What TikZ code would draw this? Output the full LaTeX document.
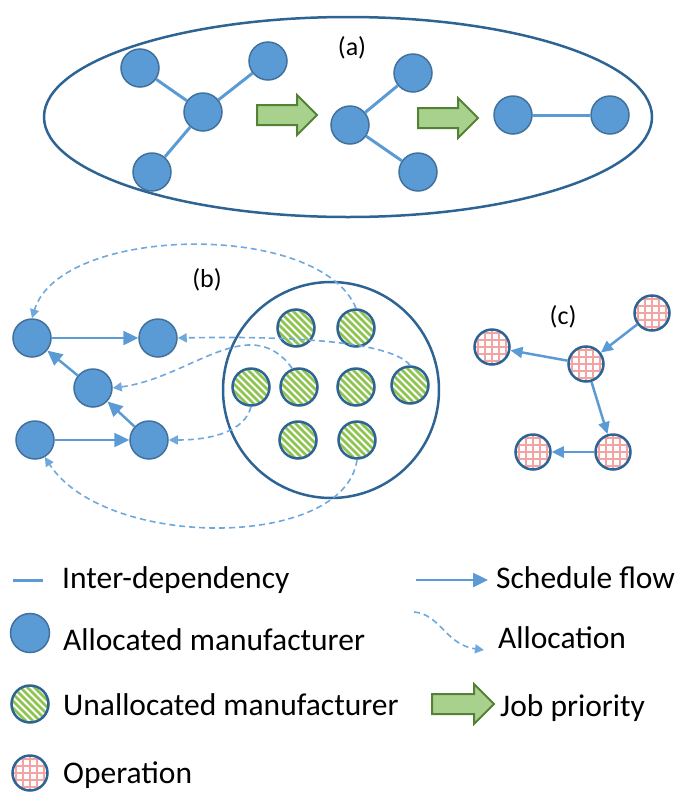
\documentclass[tikz,border=0pt]{standalone}
\usepackage{fontspec}
\setmainfont{Carlito}
\usepackage{xcolor}
\usepackage{tikz}
\usetikzlibrary{positioning, arrows.meta, shapes.geometric, shapes.arrows}

\definecolor{nodeblue}{HTML}{5B9BD5}
\definecolor{edgeblue}{HTML}{41719C}
\definecolor{ringblue}{HTML}{2E6494}
\definecolor{dashblue}{HTML}{6FA8DC}
\definecolor{stripegreen}{HTML}{8DC44E}
\definecolor{gridpink}{HTML}{F4A3A3}
\definecolor{prioface}{HTML}{A9D18E}
\definecolor{prioedge}{HTML}{548235}

\begin{document}
\begin{tikzpicture}[
    x=1pt, y=-1pt,
    alloc/.style={circle, draw=edgeblue, fill=nodeblue, line width=1.5pt, minimum size=38pt, inner sep=0},
    unalloc/.style={circle, draw=ringblue, fill=white, line width=2.5pt, minimum size=37pt, inner sep=0,
        path picture={\foreach \k in {-42,-35,...,42}{
            \draw[stripegreen, line width=2.6pt] ([xshift=\k pt]path picture bounding box.center) ++(-25pt,25pt) -- ++(50pt,-50pt);}}},
    oper/.style={circle, draw=ringblue, fill=white, line width=2.5pt, minimum size=35pt, inner sep=0,
        path picture={\foreach \k in {-14,-7,...,14}{
            \draw[gridpink, line width=1.4pt] ([xshift=\k pt]path picture bounding box.center) ++(0pt,-20pt) -- ++(0pt,40pt);
            \draw[gridpink, line width=1.4pt] ([yshift=\k pt]path picture bounding box.center) ++(-20pt,0pt) -- ++(40pt,0pt);}}},
    group/.style={draw=ringblue, line width=2.5pt, inner sep=0},
    prio/.style={single arrow, draw=prioedge, fill=prioface, line width=2pt, inner xsep=0pt, inner ysep=9pt, minimum height=60pt, single arrow head extend=10pt},
    dep/.style={draw=nodeblue, line width=3pt},
    flow/.style={draw=nodeblue, line width=2.5pt, -{Triangle[length=15pt, width=14pt]}},
    opflow/.style={draw=nodeblue, line width=2.5pt, -{Triangle[length=12pt, width=11pt]}},
    assign/.style={draw=dashblue, line width=1.6pt, dash pattern=on 6pt off 4pt, -{Triangle[length=9pt, width=9pt]}},
    tag/.style={font=\fontsize{26}{30}\selectfont},
    legend/.style={anchor=base west, inner sep=0, font=\fontsize{31.5}{36}\selectfont}
]
\useasboundingbox (0,0) rectangle (675,793);

% (a) job priority
\node[group, ellipse, minimum width=608pt, minimum height=200pt] (jobs) at (348,117) {};
\node[tag] (taga) at (352,48) {(a)};
\node[alloc] (a1) at (140,68) {};
\node[alloc] (a2) at (268,61) {};
\node[alloc] (a3) at (203,112) {};
\node[alloc] (a4) at (152,172) {};
\node[alloc] (m1) at (413,73) {};
\node[alloc] (m2) at (350,125) {};
\node[alloc] (m3) at (418,172) {};
\node[alloc] (r1) at (513,115) {};
\node[alloc] (r2) at (610,115) {};
\node[prio] (prio1) at (282,115) {};
\node[prio] (prio2) at (443,118) {};

\draw[dep] (a1) -- (a3);
\draw[dep] (a2) -- (a3);
\draw[dep] (a4) -- (a3);
\draw[dep] (m1) -- (m2);
\draw[dep] (m3) -- (m2);
\draw[dep] (r1) -- (r2);

% (b) allocation
\node[tag] (tagb) at (207,280) {(b)};
\node[group, circle, minimum size=216pt] (pool) at (331,390) {};
\node[alloc] (b1) at (32,338) {};
\node[alloc] (b2) at (158,338) {};
\node[alloc] (b3) at (93,388) {};
\node[alloc] (b4) at (35,440) {};
\node[alloc] (b5) at (149,440) {};
\node[unalloc] (g1) at (296,328) {};
\node[unalloc] (g2) at (356,328) {};
\node[unalloc] (g3) at (251,387) {};
\node[unalloc] (g4) at (299,387) {};
\node[unalloc] (g5) at (356,387) {};
\node[unalloc] (g6) at (410,385) {};
\node[unalloc] (g7) at (298,440) {};
\node[unalloc] (g8) at (357,440) {};

\draw[flow] (b1) -- (b2);
\draw[flow] (b4) -- (b5);
\draw[flow] (b5) -- (b3);
\draw[flow] (b3) -- (b1);

\draw[assign] (g2.north) .. controls (320,220) and (60,225) .. (b1.north);
\draw[assign] (g6.north) .. controls (390,340) and (280,336) .. (b2.east);
\draw[assign] (g4.110) .. controls (250,310) and (190,378) .. (b3.east);
\draw[assign] (g3.south) .. controls (245,430) and (215,440) .. (b5.east);
\draw[assign] (g8.south) .. controls (345,550) and (105,550) .. (b4.300);

% (c) operations
\node[tag] (tagc) at (563,317) {(c)};
\node[oper] (c1) at (652,313) {};
\node[oper] (c2) at (492,347) {};
\node[oper] (c3) at (586,364) {};
\node[oper] (c4) at (613,452) {};
\node[oper] (c5) at (533,452) {};

\draw[opflow] (c1) -- (c3);
\draw[opflow] (c3) -- (c2);
\draw[opflow] (c3) -- (c4);
\draw[opflow] (c4) -- (c5);

% Legend
\coordinate (depL) at (13,580);
\coordinate (depR) at (43,580);
\draw[dep] (depL) -- (depR);
\node[legend] (l1) at (62,588) {Inter-dependency};

\node[alloc, minimum size=39pt] (k2) at (30,633) {};
\node[legend] (l2) at (63,650) {Allocated manufacturer};

\node[unalloc] (k3) at (30,704) {};
\node[legend] (l3) at (63,715) {Unallocated manufacturer};

\node[oper] (k4) at (30,773) {};
\node[legend] (l4) at (63,783) {Operation};

\coordinate (flowL) at (416,580);
\coordinate (flowR) at (488,580);
\draw[flow] (flowL) -- (flowR);
\node[legend] (l5) at (496,588) {Schedule flow};

\coordinate (asgL) at (414,612);
\coordinate (asgR) at (484,650);
\draw[assign] (asgL) .. controls (440,614) and (446,645) .. (asgR);
\node[legend] (l6) at (498,648) {Allocation};

\node[prio, minimum height=62pt] (k7) at (458,704) {};
\node[legend] (l7) at (500,716) {Job priority};

\end{tikzpicture}
\end{document}
